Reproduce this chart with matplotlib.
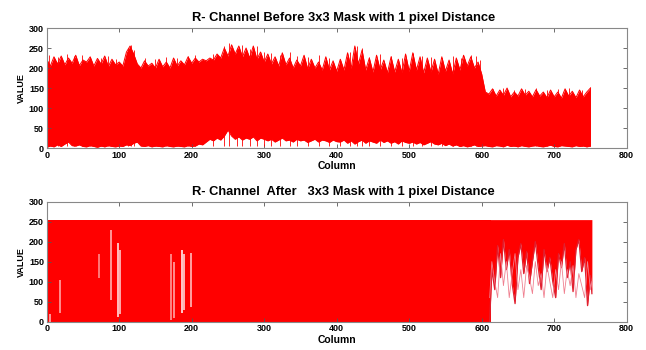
import numpy as np
import matplotlib
matplotlib.use("Agg")
import matplotlib.pyplot as plt

plt.rcParams["font.family"] = ["Liberation Sans", "DejaVu Sans"]
plt.rcParams["font.weight"] = "bold"

# ---- top panel: envelope of R-channel values before masking (every 5 columns)
cols = np.arange(0, 755, 5)
upper = [222, 205, 228, 210, 230, 208, 225, 212, 232, 206, 220, 215, 228, 205, 224, 210, 230, 204, 222, 208, 215,
         205, 240, 255, 235, 210, 200, 218, 205, 212, 200, 222, 203, 215, 200, 225, 205, 218, 208, 228, 212,
         225, 215, 222, 218, 225, 220, 235, 225, 250, 230, 258, 235, 255, 228, 250, 225, 255, 222, 240, 215,
         235, 210, 228, 205, 238, 208, 225, 200, 220, 205, 232, 198, 222, 200, 215, 195, 228, 195, 218, 192,
         222, 195, 238, 200, 255, 210, 245, 195, 225, 190, 232, 195, 220, 188, 228, 190, 222, 188, 235, 192,
         238, 195, 228, 188, 225, 190, 222, 185, 228, 192, 220, 185, 225, 195, 232, 205, 228, 200, 215, 185,
         140, 135, 148, 130, 145, 132, 150, 128, 140, 130, 148, 132, 142, 128, 146, 130, 140, 126, 145, 128,
         140, 125, 148, 130, 142, 126, 145, 128, 140, 150]
lower = [2, 5, 3, 8, 4, 10, 15, 6, 5, 8, 4, 3, 6, 4, 2, 5, 3, 6, 4, 3, 5,
         4, 8, 6, 12, 15, 5, 4, 6, 3, 5, 4, 3, 6, 4, 3, 5, 4, 3, 6, 4,
         5, 10, 8, 15, 22, 18, 25, 20, 30, 45, 30, 22, 28, 20, 25, 22, 28, 18, 25, 22,
         18, 22, 15, 20, 25, 18, 20, 15, 22, 18, 20, 14, 18, 22, 15, 20, 18, 14, 20, 16,
         15, 20, 12, 18, 10, 16, 20, 12, 18, 15, 12, 20, 14, 18, 12, 16, 10, 18, 14, 12,
         15, 10, 14, 8, 12, 16, 10, 8, 12, 6, 10, 5, 8, 4, 6, 3, 5, 8, 4, 5,
         6, 4, 3, 6, 5, 3, 7, 4, 5, 3, 6, 4, 3, 5, 6, 4, 3, 5, 7, 4,
         3, 6, 5, 4, 3, 6, 4, 5, 3, 5]
spike_col = [3, 15, 28, 38, 48, 60, 75, 85, 95, 112, 116, 120, 135, 150, 165,
             180, 195, 205, 230, 245, 252, 262, 270, 280, 290, 300, 310, 322,
             335, 345, 360, 375, 390, 405, 418, 428, 435, 445, 460, 475, 490,
             505, 518, 530, 545, 560, 572, 585, 592, 598, 615, 630, 645, 660,
             675, 690, 705, 720, 738, 750]
spike_val = [232, 228, 235, 230, 232, 228, 225, 230, 222, 250, 258, 245, 225,
             222, 228, 224, 230, 232, 235, 255, 262, 250, 258, 248, 255, 240,
             238, 232, 240, 230, 228, 232, 225, 222, 240, 256, 250, 228, 235,
             230, 226, 238, 230, 228, 225, 230, 224, 232, 230, 220, 148, 150,
             145, 148, 150, 145, 148, 150, 146, 152]

# ---- bottom panel: saturated at 255 up to column ~611, noisy afterwards
sat_end = 613
noisy_col = [611, 614, 618, 622, 626, 630, 634, 638, 642, 646, 650, 654, 658,
             662, 666, 670, 674, 678, 682, 686, 690, 694, 698, 702, 706, 710,
             714, 718, 722, 726, 730, 734, 738, 742, 746, 750, 752]
noisy_low = [0, 130, 80, 190, 110, 205, 130, 180, 95, 45, 160, 195, 120, 175,
             95, 150, 200, 135, 80, 180, 125, 160, 100, 60, 170, 135, 195, 110,
             150, 75, 180, 205, 125, 160, 40, 115, 70]
noisy_faint = [60, 150, 100, 60, 170, 90, 150, 60, 120, 170, 80, 130, 60, 140,
               110, 70, 150, 90, 120, 60, 140, 100, 60, 130, 80, 150, 70, 130,
               90, 140, 60, 120, 90, 60, 150, 80, 100]
# thin white gaps inside the saturated block: column, bottom, top
gap_col = [5, 18, 72, 88, 99, 101, 172, 176, 187, 189, 199]
gap_lo = [0, 21, 110, 54, 12, 20, 5, 10, 21, 30, 37]
gap_hi = [20, 104, 170, 229, 196, 180, 170, 150, 179, 170, 171]
gap_shade = [(1.0, 0.75, 0.75), (1.0, 0.7, 0.7), (1.0, 0.6, 0.6), (1.0, 0.75, 0.75),
             (1.0, 0.95, 0.95), (1.0, 0.85, 0.85), (1.0, 0.65, 0.65), (1.0, 0.7, 0.7),
             (1.0, 1.0, 1.0), (1.0, 0.9, 0.9), (1.0, 0.8, 0.8)]

red = "#ff0000"
fig = plt.figure(figsize=(6.46, 3.5), dpi=100)
ax1 = fig.add_axes([0.0723, 0.577, 0.8978, 0.343])
ax2 = fig.add_axes([0.0723, 0.081, 0.8978, 0.343])

ax1.fill_between(cols, lower, upper, color=red, lw=0)
ax1.plot(cols, upper, color=red, lw=0.7)
ax1.plot(cols, lower, color=red, lw=0.7)
ax1.vlines(spike_col, 5, spike_val, color=red, lw=0.6)

ax2.fill_between([0, sat_end], 0, 255, color=red, lw=0)
ax2.vlines(gap_col, gap_lo, gap_hi, colors=gap_shade, lw=1.1)
ax2.fill_between(noisy_col, noisy_low, 255, color=red, lw=0)
ax2.plot(noisy_col, noisy_low, color="#e02030", lw=0.9)
ax2.plot(noisy_col, noisy_faint, color="#f08090", lw=0.6)

titles = ["R- Channel Before 3x3 Mask with 1 pixel Distance",
          "R- Channel  After   3x3 Mask with 1 pixel Distance"]
for ax, t in zip([ax1, ax2], titles):
    ax.set_xlim(0, 800)
    ax.set_ylim(0, 300)
    ax.set_xticks(range(0, 801, 100))
    ax.set_yticks(range(0, 301, 50))
    ax.tick_params(direction="in", length=3, width=0.6, color="#555555",
                   labelsize=6.5, top=True, right=True, pad=2)
    for lab in ax.get_xticklabels() + ax.get_yticklabels():
        lab.set_fontweight("bold")
    for s in ax.spines.values():
        s.set_color("#888888")
        s.set_linewidth(0.8)
    ax.set_title(t, fontsize=9.3, fontweight="bold", pad=5, x=0.512)
    ax.set_xlabel("Column", fontsize=7.5, fontweight="bold", labelpad=1)
    ax.set_ylabel("VALUE", fontsize=6.5, fontweight="bold", labelpad=2)

plt.savefig("out.png", dpi=100)
